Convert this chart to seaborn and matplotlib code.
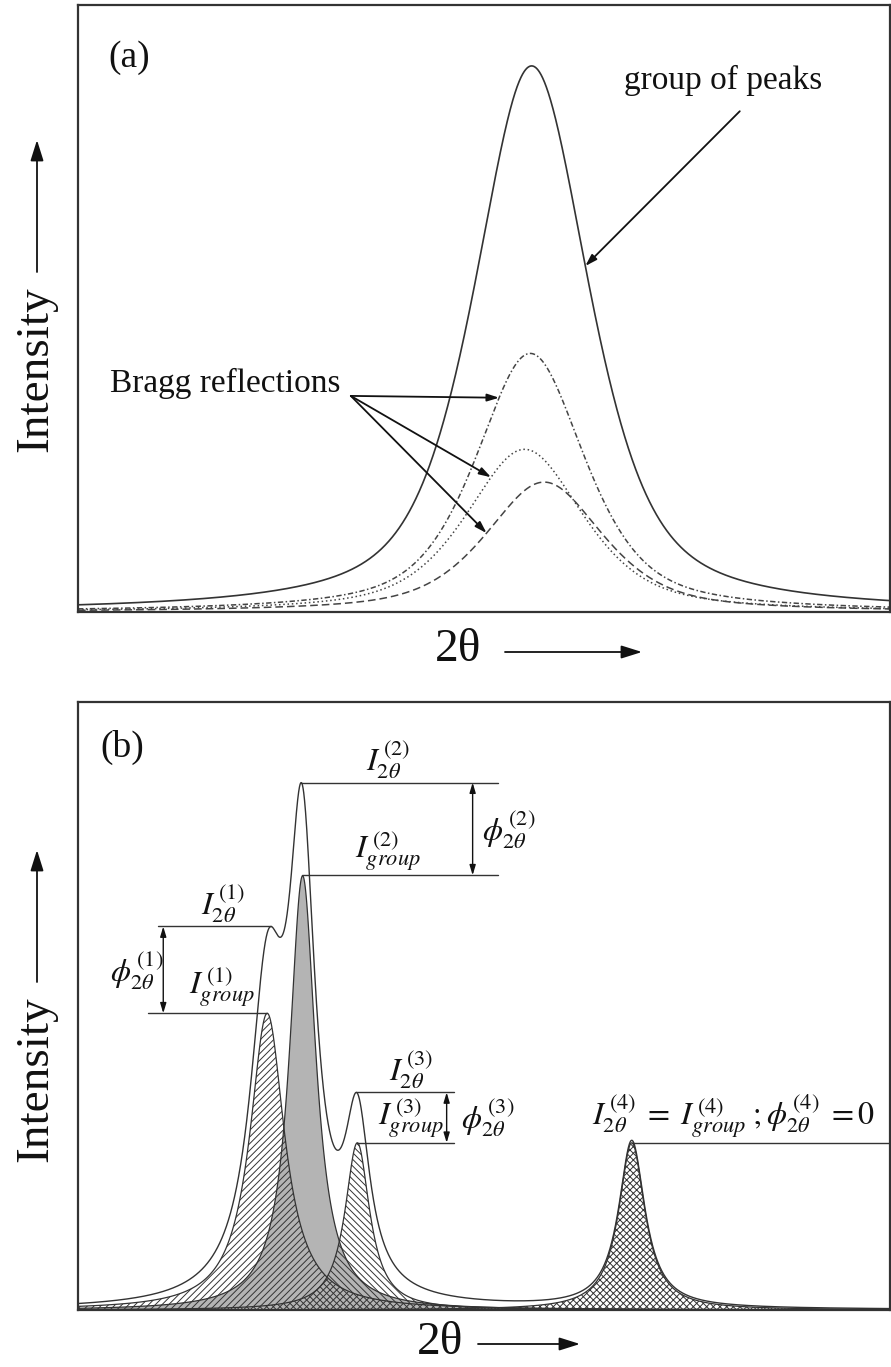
import numpy as np
import matplotlib
matplotlib.use("Agg")
import matplotlib.pyplot as plt
from matplotlib.patches import FancyArrowPatch
import seaborn as sns

# ---------------- data ----------------
# Panel (a): three Bragg reflections (pseudo-Voigt) that form one group of peaks
a_styles = ["dashdot", "dotted", "dashed"]
a_centers = [55.7, 55.0, 57.4]      # 2theta (arbitrary units, 0-100 across the frame)
a_heights = [42.6, 26.8, 21.4]      # intensity (arbitrary units, 0-100 frame height)
a_hwhm = [8.0, 8.6, 8.6]
a_eta = 0.6

# Panel (b): four individual reflections (Lorentzian)
b_names = ["1", "2", "3", "4"]
b_centers = [23.3, 27.6, 34.4, 68.2]
b_heights = [48.8, 71.5, 27.5, 27.5]
b_hwhm = [2.6, 1.97, 1.85, 1.97]
b_hatches = ["/////", None, "\\\\\\\\\\", "xxxxx"]

# ---------------- style ----------------
sns.set_style("white")
plt.rcParams["font.family"] = ["Liberation Serif", "DejaVu Serif"]
plt.rcParams["mathtext.fontset"] = "stix"
plt.rcParams["hatch.linewidth"] = 0.7
plt.rcParams["hatch.color"] = "#333333"

W, H = 891, 1367
fig = plt.figure(figsize=(W / 100, H / 100), dpi=100)


def box(l, t, r, b):
    return [l / W, 1 - b / H, (r - l) / W, (b - t) / H]


def fpx(x, y):
    return (x / W, 1 - y / H)


def lorentz(x, c, h, w):
    return h / (1 + ((x - c) / w) ** 2)


def pvoigt(x, c, h, w, eta):
    u = ((x - c) / w) ** 2
    return h * (eta / (1 + u) + (1 - eta) * np.exp(-np.log(2) * u))


xs = np.linspace(0, 100, 4001)
LC = "#333333"
TXT = "#111111"

# ================= panel (a) =================
axA = fig.add_axes(box(78, 5, 890, 612))
dash_map = {"dashdot": (0, (3.5, 1.6, 1.0, 1.6)),
            "dotted": (0, (1.0, 1.8)),
            "dashed": (0, (5.0, 2.6))}
a_curves = []
for st, c, h, w in zip(a_styles, a_centers, a_heights, a_hwhm):
    y = pvoigt(xs, c, h, w, a_eta)
    a_curves.append(y)
    sns.lineplot(x=xs, y=y, ax=axA, color="#444444", lw=1.1,
                 linestyle=dash_map[st])
a_sum = np.sum(a_curves, axis=0)
sns.lineplot(x=xs, y=a_sum, ax=axA, color=LC, lw=1.2)
axA.set_xlim(0, 100)
axA.set_ylim(0, 100)


def side_x(x, y, level, left=True):
    i = int(np.argmax(y))
    if left:
        return np.interp(level, y[:i + 1], x[:i + 1])
    return np.interp(level, y[i:][::-1], x[i:][::-1])


arr_kw = dict(arrowstyle="-|>,head_length=0.7,head_width=0.22", color=TXT,
              lw=1.3, shrinkA=0, shrinkB=0)
axA.text(79.5, 87.6, "group of peaks", fontsize=24, ha="center", va="center",
         color=TXT)
lev = 57.0
axA.annotate("", xy=(side_x(xs, a_sum, lev, left=False), lev),
             xytext=(81.5, 82.5), arrowprops=arr_kw)
axA.text(18.1, 37.6, "Bragg reflections", fontsize=24, ha="center",
         va="center", color=TXT)
for y, lev in zip(a_curves, [35.3, 22.2, 13.0]):
    axA.annotate("", xy=(side_x(xs, y, lev, left=True), lev),
                 xytext=(33.6, 35.6), arrowprops=arr_kw)
axA.text(0.063, 0.914, "(a)", transform=axA.transAxes, fontsize=27,
         ha="center", va="center", color=TXT)

# ================= panel (b) =================
axB = fig.add_axes(box(78, 702, 890, 1310))
b_curves = [lorentz(xs, c, h, w) for c, h, w in
            zip(b_centers, b_heights, b_hwhm)]
b_sum = np.sum(b_curves, axis=0)

# gray filled reflection 2 first, hatched ones on top
axB.fill_between(xs, 0, b_curves[1], facecolor="#b4b4b4", edgecolor=LC,
                 lw=0.9, zorder=2)
for y, hatch in zip(b_curves, b_hatches):
    if hatch is None:
        continue
    axB.fill_between(xs, 0, y, facecolor="none", edgecolor=LC, hatch=hatch,
                     lw=0.9, zorder=3)
sns.lineplot(x=xs, y=b_sum, ax=axB, color=LC, lw=1.0, zorder=4)
axB.set_xlim(0, 100)
axB.set_ylim(0, 100)


def local_max(x, y, c, half=1.5):
    m = (x > c - half) & (x < c + half)
    j = int(np.argmax(y[m]))
    return x[m][j], y[m][j]


ln_kw = dict(color=LC, lw=1.0, zorder=5)
dbl_kw = dict(arrowstyle="<|-|>,head_length=0.6,head_width=0.18", color=TXT,
              lw=1.0, shrinkA=0, shrinkB=0)
FS = 23

# reflection 2
x2, y2 = local_max(xs, b_sum, b_centers[1])
g2 = b_heights[1]
axB.plot([x2, 51.7], [y2, y2], **ln_kw)
axB.plot([b_centers[1], 51.7], [g2, g2], **ln_kw)
axB.annotate("", xy=(48.6, y2), xytext=(48.6, g2), arrowprops=dbl_kw)
axB.text(38.2, y2 + 0.25, r"$I_{2\theta}^{\,(2)}$", fontsize=FS,
         ha="center", va="bottom", color=TXT)
axB.text(38.2, g2 + 0.45, r"$I_{group}^{\,(2)}$", fontsize=FS,
         ha="center", va="bottom", color=TXT)
axB.text(49.8, (y2 + g2) / 2, r"$\phi_{2\theta}^{\,(2)}$", fontsize=FS,
         ha="left", va="center", color=TXT)

# reflection 1
x1, y1 = local_max(xs, b_sum, b_centers[0], half=1.0)
g1 = b_heights[0]
axB.plot([9.85, x1], [y1, y1], **ln_kw)
axB.plot([8.6, b_centers[0]], [g1, g1], **ln_kw)
axB.annotate("", xy=(10.5, y1), xytext=(10.5, g1), arrowprops=dbl_kw)
axB.text(17.9, y1 + 0.25, r"$I_{2\theta}^{\,(1)}$", fontsize=FS,
         ha="center", va="bottom", color=TXT)
axB.text(17.7, g1 + 0.7, r"$I_{group}^{\,(1)}$", fontsize=FS,
         ha="center", va="bottom", color=TXT)
axB.text(3.9, (y1 + g1) / 2, r"$\phi_{2\theta}^{\,(1)}$", fontsize=FS,
         ha="left", va="center", color=TXT)

# reflection 3
x3, y3 = local_max(xs, b_sum, b_centers[2], half=1.0)
g3 = b_heights[2]
axB.plot([x3, 46.3], [y3, y3], **ln_kw)
axB.plot([b_centers[2], 46.3], [g3, g3], **ln_kw)
axB.annotate("", xy=(45.4, y3), xytext=(45.4, g3), arrowprops=dbl_kw)
axB.text(41.0, y3 + 0.25, r"$I_{2\theta}^{\,(3)}$", fontsize=FS,
         ha="center", va="bottom", color=TXT)
axB.text(41.0, g3 + 0.45, r"$I_{group}^{\,(3)}$", fontsize=FS,
         ha="center", va="bottom", color=TXT)
axB.text(47.2, (y3 + g3) / 2, r"$\phi_{2\theta}^{\,(3)}$", fontsize=FS,
         ha="left", va="center", color=TXT)

# reflection 4
g4 = b_heights[3]
axB.plot([b_centers[3], 100], [g4, g4], **ln_kw)
axB.text(63.3, g4 + 0.45,
         r"$I_{2\theta}^{\,(4)}\;=\;I_{group}^{\,(4)}\;;\phi_{2\theta}^{\,(4)}\;=0$",
         fontsize=FS, ha="left", va="bottom", color=TXT)
axB.text(0.054, 0.925, "(b)", transform=axB.transAxes, fontsize=27,
         ha="center", va="center", color=TXT)

# ---------------- frames ----------------
for ax in (axA, axB):
    ax.set_xticks([])
    ax.set_yticks([])
    ax.set_xlabel("")
    ax.set_ylabel("")
    for s in ax.spines.values():
        s.set_visible(True)
        s.set_color(LC)
        s.set_linewidth(1.6)

# ---------------- axis labels with arrows ----------------
lab_arr = dict(arrowstyle="-|>,head_length=0.7,head_width=0.22", color=TXT,
               lw=1.3, shrinkA=0, shrinkB=0, mutation_scale=18)
for (tx, ty), (ax0, ay0), (ax1, ay1) in [
        ((36, 369), (37, 272), (37, 140)),
        ((36, 1079), (37, 982), (37, 850))]:
    fig.text(*fpx(tx, ty), "Intensity", rotation=90, fontsize=34,
             ha="center", va="center", color=TXT)
    fig.add_artist(FancyArrowPatch(fpx(ax0, ay0), fpx(ax1, ay1),
                                   transform=fig.transFigure, **lab_arr))

for (tx, ty), (ax0, ay0), (ax1, ay1) in [
        ((458, 650), (505, 652), (642, 652)),
        ((440, 1343), (478, 1344), (580, 1344))]:
    fig.text(*fpx(tx, ty), "2θ", fontsize=34, ha="center", va="center",
             color=TXT)
    fig.add_artist(FancyArrowPatch(fpx(ax0, ay0), fpx(ax1, ay1),
                                   transform=fig.transFigure, **lab_arr))

fig.savefig("out.png", dpi=100, facecolor="white")
